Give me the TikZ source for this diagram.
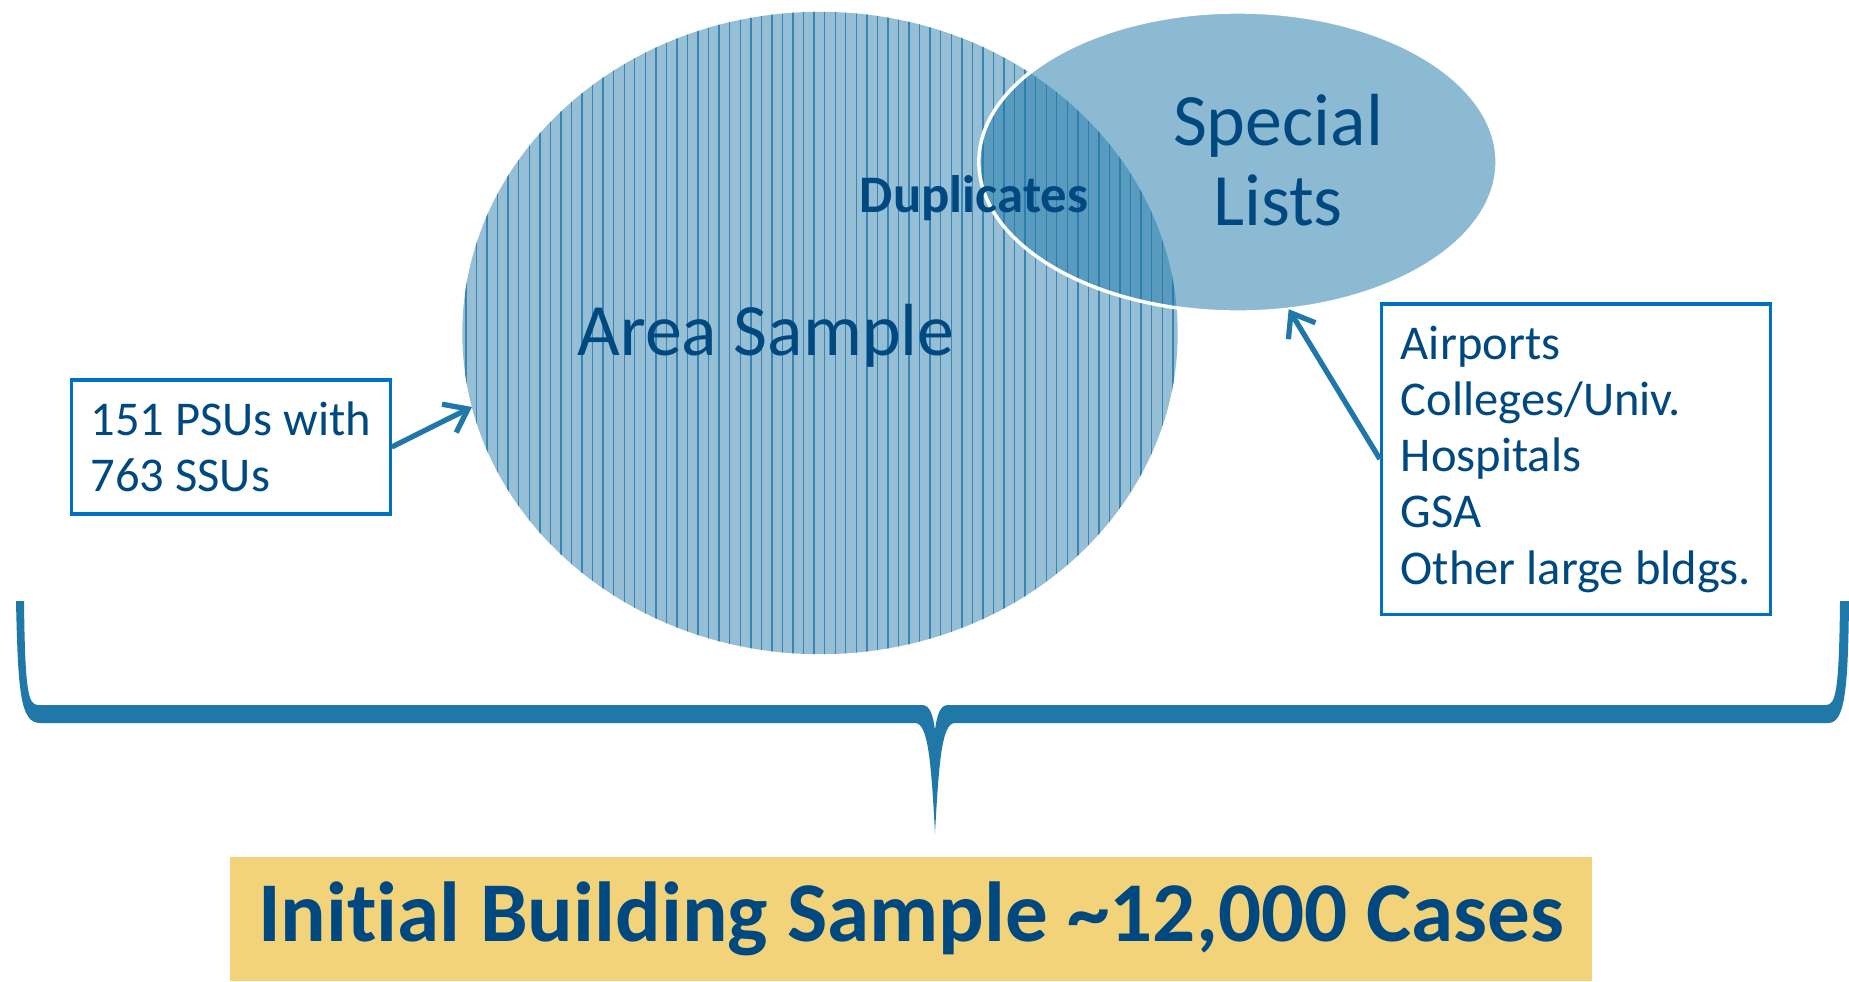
\documentclass[tikz,border=0pt]{standalone}
\usepackage{fontspec}
\setmainfont{Carlito}[Ligatures=NoCommon]
\usetikzlibrary{shapes.geometric,patterns,arrows.meta}

\definecolor{sblue}{RGB}{31,120,168}
\definecolor{stext}{RGB}{0,72,128}
\definecolor{sline}{RGB}{0,112,192}
\definecolor{sgold}{RGB}{243,211,122}
\definecolor{shatch}{RGB}{55,135,182}

\tikzset{
  listbox/.style={draw=sline, line width=0.9pt, align=left, text=stext,
    font=\fontsize{13.8}{16}\selectfont, inner sep=0},
  pointer/.style={sblue, line width=1.5pt, -{Straight Barb[length=6pt,width=9pt]}},
  big/.style={text=stext, font=\fontsize{21}{22.5}\selectfont}
}

\begin{document}
\begin{tikzpicture}[x=0.01cm, y=-0.01cm]
   \useasboundingbox (0,0) rectangle (1849,981);

   % the two samples
   \node [ellipse, minimum width=7.15cm, minimum height=6.42cm, inner sep=0, outer sep=0,
          fill=sblue, fill opacity=0.47,
          postaction={pattern=vertical lines, pattern color=shatch}]
      (area) at (820,333) {};
   \node [ellipse, minimum width=5.18cm, minimum height=3.0cm, inner sep=0, outer sep=0,
          fill=sblue, fill opacity=0.51, draw=white, draw opacity=1, line width=1pt]
      (spec) at (1238,162) {};

   \node [big, anchor=base] (areatxt) at (766,355) {Area Sample};
   \node [big, anchor=base, align=center] (spectxt) at (1278,225) {Special\\Lists};
   \node [text=stext, font=\fontsize{15}{18}\selectfont\bfseries, anchor=base]
      (dup) at (974,212) {Duplicates};

   % frame boxes
   \node [listbox, minimum width=3.18cm, minimum height=1.34cm]
      (psu) at (231,447) {151 PSUs with\\763 SSUs};
   \node [listbox, minimum width=3.89cm, minimum height=3.10cm]
      (lists) at (1576,459) {Airports\\Colleges/Univ.\\Hospitals\\GSA\\Other large bldgs.};

   \foreach \a/\b in {psu.east/area.192, lists.west/spec.289}
      \draw [pointer] (\a) -- (\b);

   % brace
   \fill [sblue] (16,601) .. controls (18,690) and (20,723) .. (40,723) -- (915,723)
      .. controls (928,723) and (931,760) .. (935,833)
      .. controls (939,760) and (942,723) .. (955,723) -- (1828,723)
      .. controls (1845,723) and (1848,690) .. (1849,601) -- (1840,601)
      .. controls (1839,690) and (1836,705) .. (1826,705) -- (948,705)
      .. controls (940,705) and (937,715) .. (935,730)
      .. controls (933,715) and (930,705) .. (922,705) -- (38,705)
      .. controls (28,705) and (25,690) .. (24,601) -- cycle;

   \node [fill=sgold, minimum width=13.61cm, minimum height=1.23cm, inner sep=0,
          text=stext, font=\fontsize{24.2}{29}\selectfont\bfseries]
      (total) at (911,919) {Initial Building Sample \textasciitilde12,000 Cases};
\end{tikzpicture}
\end{document}
